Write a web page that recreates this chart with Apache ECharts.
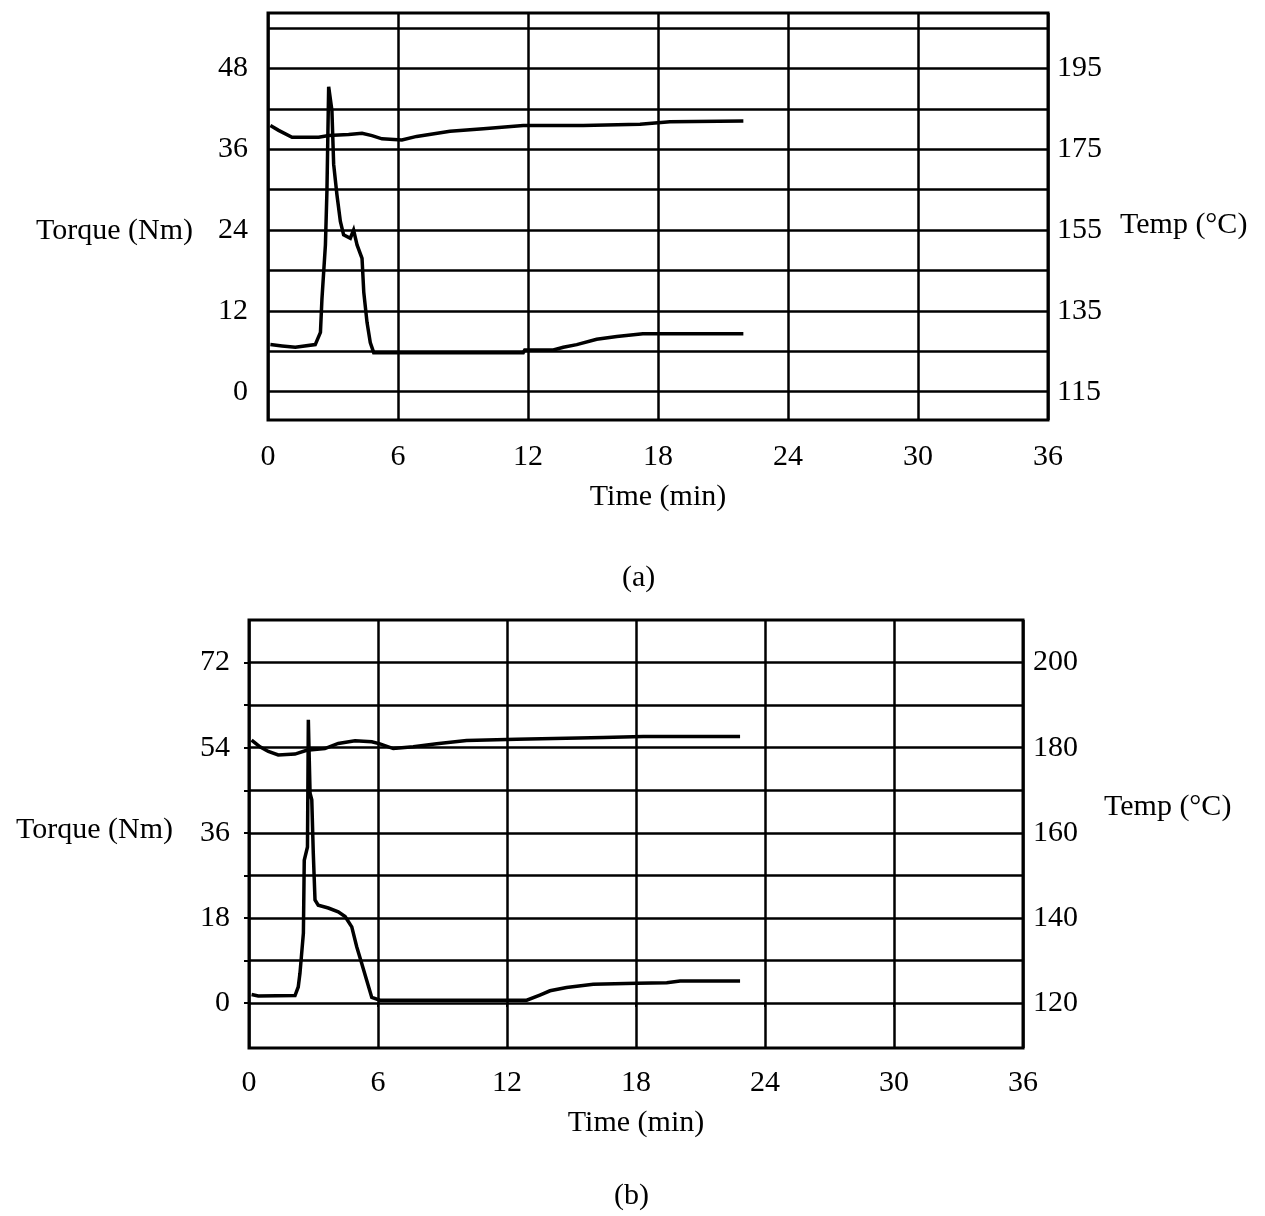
<!DOCTYPE html>
<html>
<head>
<meta charset="utf-8">
<title>Torque and temperature vs time</title>
<script src="https://cdn.jsdelivr.net/npm/echarts@6/dist/echarts.min.js"></script>
<style>
  html, body { margin: 0; padding: 0; background: #fff; }
  #chart { width: 1265px; height: 1216px; }
</style>
</head>
<body>
<div id="chart"></div>
<script>
// ---- shared axis values ----
const timeTicks = [0, 6, 12, 18, 24, 30, 36];

// ---- panel (a) ----
const torqueLabelsA = [0, 12, 24, 36, 48];
const torqueGridA = [0, 6, 12, 18, 24, 30, 36, 42, 48, 54];
const tempLabelsA = [115, 135, 155, 175, 195];

const torqueTimeA = [0.11, 0.65, 1.26, 2.18, 2.42, 2.49, 2.65, 2.72, 2.80, 2.95, 3.03, 3.18, 3.34, 3.49,
  3.80, 3.95, 4.11, 4.34, 4.42, 4.57, 4.72, 4.88, 11.78, 11.85, 13.17, 13.63, 14.25, 15.17, 16.10, 17.30, 21.94];
const torqueValA = [7.0, 6.8, 6.6, 7.0, 8.8, 13.8, 21.8, 29.8, 45.3, 41.8, 33.8, 29.3, 25.3, 23.3,
  22.8, 24.0, 21.8, 19.8, 14.8, 10.3, 7.3, 5.8, 5.8, 6.2, 6.2, 6.6, 7.0, 7.8, 8.2, 8.6, 8.6];

const tempTimeA = [0.11, 0.49, 1.11, 2.34, 2.80, 3.72, 4.34, 4.80, 5.26, 6.18, 6.86, 8.40, 9.94,
  11.78, 14.55, 17.17, 18.55, 21.94];
const tempValA = [180.9, 179.7, 178.0, 178.0, 178.4, 178.7, 179.0, 178.4, 177.6, 177.3, 178.2, 179.5, 180.1,
  180.9, 180.9, 181.2, 181.8, 182.0];

// ---- panel (b) ----
const torqueLabelsB = [0, 18, 36, 54, 72];
const torqueGridB = [0, 9, 18, 27, 36, 45, 54, 63, 72];
const tempLabelsB = [120, 140, 160, 180, 200];

const torqueTimeB = [0.12, 0.43, 2.14, 2.29, 2.37, 2.53, 2.57, 2.72, 2.76, 2.80, 2.84, 2.92, 2.99, 3.07,
  3.22, 3.69, 4.15, 4.47, 4.78, 5.01, 5.24, 5.47, 5.71, 6.09, 12.92, 13.53, 14.00, 14.77, 16.01, 18.03,
  19.43, 20.05, 22.84];
const torqueValB = [1.8, 1.5, 1.6, 3.4, 6.3, 14.8, 30.2, 33.0, 59.9, 52.0, 44.4, 43.0, 31.7, 21.8,
  20.7, 20.1, 19.3, 18.3, 16.1, 11.9, 8.4, 4.9, 1.2, 0.6, 0.6, 1.7, 2.6, 3.3, 4.0, 4.2,
  4.3, 4.65, 4.65];

const tempTimeB = [0.12, 0.51, 0.90, 1.36, 2.14, 2.68, 3.53, 4.15, 4.93, 5.71, 6.09, 6.71, 7.64, 8.73,
  10.12, 12.45, 16.48, 18.34, 22.84];
const tempValB = [181.8, 180.2, 179.1, 178.3, 178.5, 179.4, 179.8, 181.0, 181.6, 181.4, 180.9, 179.8, 180.2, 180.9,
  181.7, 182.0, 182.4, 182.6, 182.6];

const pairs = (xs, ys) => xs.map((x, i) => [x, ys[i]]);

const FONT = "'Liberation Serif', 'Times New Roman', serif";
const black = '#000';
const labelStyle = { fontFamily: FONT, fontSize: 30, color: black };
const gridLine = { color: black, width: 2.5 };

function timeAxis(gridIndex, margin, tickLen) {
  return {
    type: 'value', gridIndex, min: 0, max: 36, interval: 6,
    axisLine: { show: false },
    axisTick: { show: tickLen > 0, length: tickLen, lineStyle: { color: black, width: 2 } },
    splitLine: { show: true, lineStyle: gridLine },
    axisLabel: Object.assign({ margin, customValues: timeTicks }, labelStyle),
    name: 'Time (min)', nameLocation: 'middle', nameGap: margin + 40,
    nameTextStyle: labelStyle
  };
}

function torqueAxis(gridIndex, min, max, labels, grid, tickLen, margin) {
  return {
    type: 'value', gridIndex, position: 'left', min, max,
    axisLine: { show: false },
    axisTick: { show: tickLen > 0, length: tickLen, customValues: grid, lineStyle: { color: black, width: 2 } },
    splitLine: { show: true, lineStyle: gridLine },
    axisLabel: Object.assign({ margin, customValues: labels }, labelStyle)
  };
}

function tempAxis(gridIndex, min, max, labels, margin) {
  return {
    type: 'value', gridIndex, position: 'right', min, max,
    axisLine: { show: false },
    axisTick: { show: false },
    splitLine: { show: false },
    axisLabel: Object.assign({ margin, customValues: labels }, labelStyle)
  };
}

function curve(xAxisIndex, yAxisIndex, data) {
  return {
    type: 'line', xAxisIndex, yAxisIndex, data,
    showSymbol: false, silent: true, animation: false,
    lineStyle: { color: black, width: 3.5, join: 'miter' }
  };
}

const chart = echarts.init(document.getElementById('chart'), null, { renderer: 'canvas' });

const titleFont = '30px ' + FONT;

const option = {
  backgroundColor: '#fff',
  animation: false,
  grid: [
    { left: 268, top: 13, width: 780, height: 407, show: true, borderColor: black, borderWidth: 3, backgroundColor: 'transparent' },
    { left: 249, top: 620, width: 774, height: 428, show: true, borderColor: black, borderWidth: 3, backgroundColor: 'transparent' }
  ],
  xAxis: [
    timeAxis(0, 22, 0),
    timeAxis(1, 20, 4)
  ],
  yAxis: [
    torqueAxis(0, -4.2, 56.25, torqueLabelsA, torqueGridA, 0, 20),
    tempAxis(0, 108.0, 208.75, tempLabelsA, 9),
    torqueAxis(1, -9.5, 81, torqueLabelsB, torqueGridB, 5, 19),
    tempAxis(1, 109.44, 210.0, tempLabelsB, 10)
  ],
  series: [
    curve(0, 0, pairs(torqueTimeA, torqueValA)),
    curve(0, 1, pairs(tempTimeA, tempValA)),
    curve(1, 2, pairs(torqueTimeB, torqueValB)),
    curve(1, 3, pairs(tempTimeB, tempValB))
  ],
  graphic: [
    { type: 'text', left: 36, top: 216, style: { text: 'Torque (Nm)', font: titleFont, fill: black } },
    { type: 'text', left: 1120, top: 210, style: { text: 'Temp (°C)', font: titleFont, fill: black } },
    { type: 'text', left: 16, top: 815, style: { text: 'Torque (Nm)', font: titleFont, fill: black } },
    { type: 'text', left: 1104, top: 792, style: { text: 'Temp (°C)', font: titleFont, fill: black } },
    { type: 'text', left: 622, top: 563, style: { text: '(a)', font: titleFont, fill: black } },
    { type: 'text', left: 614, top: 1181, style: { text: '(b)', font: titleFont, fill: black } }
  ]
};

chart.setOption(option);
</script>
</body>
</html>
